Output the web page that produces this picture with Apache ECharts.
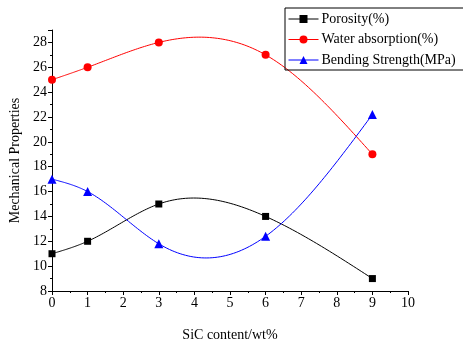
<!DOCTYPE html>
<html><head><meta charset="utf-8">
<script src="https://cdn.jsdelivr.net/npm/echarts@6/dist/echarts.min.js"></script>
<style>html,body{margin:0;padding:0;background:#fff}#c{width:463px;height:347px}</style>
</head><body><div id="c"></div>
<script>
const xValues = [0, 1, 3, 6, 9];
const porosity = [11, 12, 15, 14, 9];
const waterAbsorption = [25, 26, 28, 27, 19];
const bendingStrength = [17, 16, 11.8, 12.4, 22.2];
const seriesNames = ['Porosity(%)', 'Water absorption(%)', 'Bending Strength(MPa)'];
const colors = ['#000000', '#ff0000', '#0000ff'];
const symbols = ['rect', 'circle', 'triangle'];
const symbolSizes = [7, 8, 9];

const font = 'Liberation Serif';
function pairs(vals){ return xValues.map((x,i)=>[x, vals[i]]); }

// natural cubic spline second derivatives (rendering of the connecting curve, like Origin's spline line)
function splineM(xs, ys){
  const n = xs.length, h = [], a = [], b = [], c = [], d = [];
  for (let i = 0; i < n - 1; i++) h.push(xs[i+1] - xs[i]);
  const M = new Array(n).fill(0);
  const m = n - 2;
  for (let i = 1; i <= m; i++) {
    a.push(h[i-1]); b.push(2*(h[i-1]+h[i])); c.push(h[i]);
    d.push(6*((ys[i+1]-ys[i])/h[i] - (ys[i]-ys[i-1])/h[i-1]));
  }
  for (let i = 1; i < m; i++) { const w = a[i]/b[i-1]; b[i] -= w*c[i-1]; d[i] -= w*d[i-1]; }
  const sol = new Array(m);
  for (let i = m-1; i >= 0; i--) sol[i] = (d[i] - (i < m-1 ? c[i]*sol[i+1] : 0)) / b[i];
  for (let i = 0; i < m; i++) M[i+1] = sol[i];
  return M;
}
function curveSeries(idx, vals){
  const M = splineM(xValues, vals);
  return {
    type: 'custom', silent: true, z: 1,
    data: pairs(vals),
    encode: {x: 0, y: 1},
    renderItem: function(params, api){
      const i = params.dataIndex;
      if (i >= xValues.length - 1) return;
      const x0 = xValues[i], x1 = xValues[i+1], y0 = vals[i], y1 = vals[i+1], h = x1 - x0;
      const pts = [];
      const N = 40;
      for (let k = 0; k <= N; k++) {
        const x = x0 + h*k/N;
        const A = (x1 - x)/h, B = (x - x0)/h;
        const y = A*y0 + B*y1 + ((A*A*A - A)*M[i] + (B*B*B - B)*M[i+1])*h*h/6;
        pts.push(api.coord([x, y]));
      }
      return {type: 'polyline', shape: {points: pts},
        style: {stroke: colors[idx], lineWidth: 1, fill: null}};
    }
  };
}
const valueLists = [porosity, waterAbsorption, bendingStrength];
const series = [];
valueLists.forEach((vals, idx) => {
  series.push({name: seriesNames[idx], type: 'line', data: pairs(vals), z: 3,
    symbol: symbols[idx], symbolSize: symbolSizes[idx], color: colors[idx],
    lineStyle: {width: 1, opacity: 0}});
});
valueLists.forEach((vals, idx) => series.push(curveSeries(idx, vals)));

const chart = echarts.init(document.getElementById('c'));
chart.setOption({
  animation: false,
  textStyle: {fontFamily: font},
  grid: {left: 52, right: 55, top: 30, bottom: 53},
  legend: {
    left: 285, top: 8, orient: 'vertical', itemGap: 6.5, itemWidth: 30, itemHeight: 10,
    borderColor: '#000', borderWidth: 1, padding: [4, 10, 3, 3],
    lineStyle: {opacity: 1, width: 1},
    textStyle: {fontFamily: font, fontSize: 14, color: '#000', padding: [0,0,0,-2]},
    data: seriesNames
  },
  xAxis: {
    type: 'value', min: 0, max: 10, interval: 1,
    name: 'SiC content/wt%', nameLocation: 'middle', nameGap: 37,
    nameTextStyle: {fontFamily: font, fontSize: 14, color: '#000'},
    axisLine: {lineStyle: {color: '#000', width: 1}},
    axisTick: {inside: false, length: 4, lineStyle: {color: '#000'}},
    minorTick: {show: true, splitNumber: 2, length: 2, lineStyle: {color: '#000'}},
    axisLabel: {fontFamily: font, fontSize: 14, color: '#000', margin: 5},
    splitLine: {show: false}
  },
  yAxis: {
    type: 'value', min: 8, max: 29, interval: 2,
    name: 'Mechanical Properties', nameLocation: 'middle', nameGap: 28, nameRotate: 90,
    nameTextStyle: {fontFamily: font, fontSize: 14, color: '#000'},
    axisLine: {show: true, lineStyle: {color: '#000', width: 1}},
    axisTick: {show: true, inside: false, length: 4, lineStyle: {color: '#000'}},
    minorTick: {show: true, splitNumber: 2, length: 2, lineStyle: {color: '#000'}},
    axisLabel: {fontFamily: font, fontSize: 14, color: '#000', margin: 5,
      formatter: v => (v % 2 === 0 ? v : '')},
    splitLine: {show: false}
  },
  series: series
});
</script></body></html>
